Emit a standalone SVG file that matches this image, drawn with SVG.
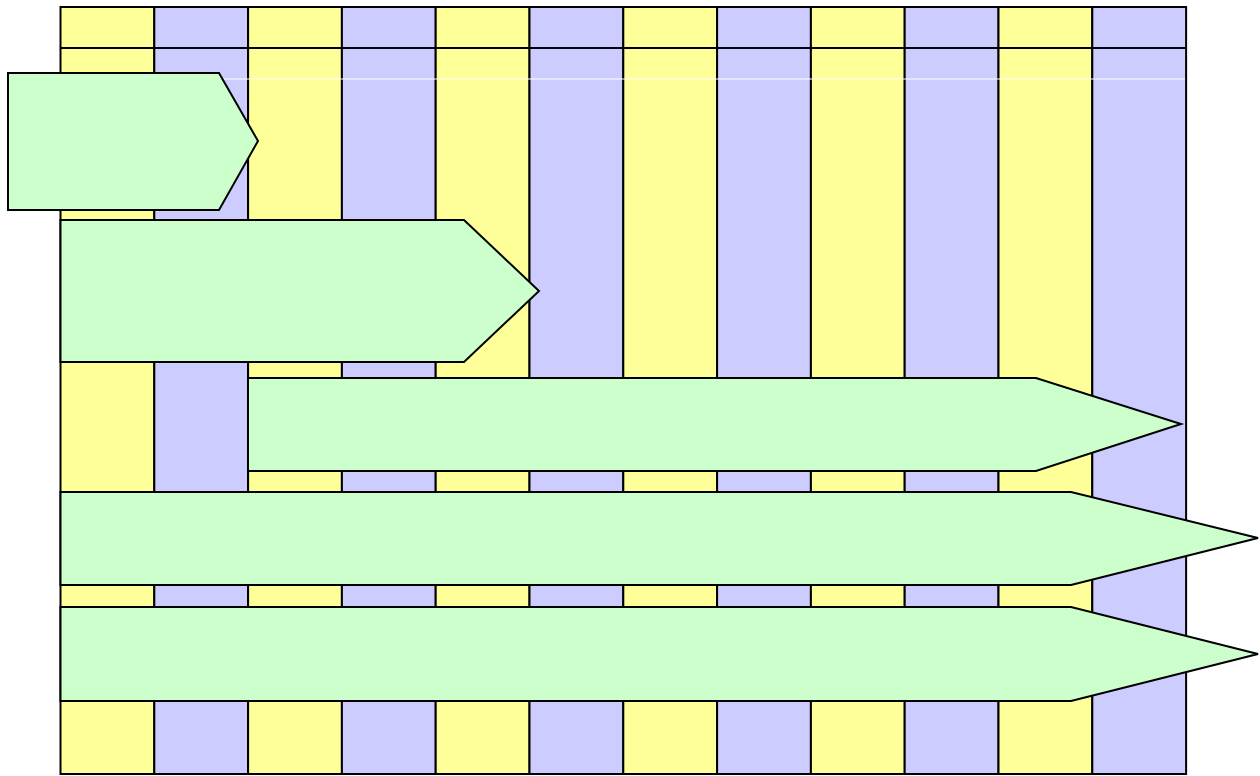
<svg xmlns="http://www.w3.org/2000/svg" width="1260" height="776" viewBox="0 0 1260 776">
<style>
.y{fill:#FFFF99;stroke:#000;stroke-width:2}
.b{fill:#CCCCFF;stroke:#000;stroke-width:2}
.bar{fill:#CCFFCC;stroke:#000;stroke-width:2;stroke-linejoin:miter}
.ln{stroke:#000;stroke-width:2}
</style>
<rect x="0" y="0" width="1260" height="776" fill="#fff"/>
<g id="grid">
<rect class="y" x="60.5" y="7" width="93.8" height="767"/>
<rect class="b" x="154.3" y="7" width="93.8" height="767"/>
<rect class="y" x="248.1" y="7" width="93.8" height="767"/>
<rect class="b" x="341.9" y="7" width="93.8" height="767"/>
<rect class="y" x="435.7" y="7" width="93.8" height="767"/>
<rect class="b" x="529.5" y="7" width="93.8" height="767"/>
<rect class="y" x="623.3" y="7" width="93.8" height="767"/>
<rect class="b" x="717.1" y="7" width="93.8" height="767"/>
<rect class="y" x="810.9" y="7" width="93.8" height="767"/>
<rect class="b" x="904.7" y="7" width="93.8" height="767"/>
<rect class="y" x="998.5" y="7" width="93.8" height="767"/>
<rect class="b" x="1092.3" y="7" width="93.8" height="767"/>
<line class="ln" x1="60.5" y1="48" x2="1186.1" y2="48"/>
<line x1="61" y1="79" x2="1185" y2="79" stroke="#fff" stroke-width="1"/>
</g>
<g id="bar1"><polygon class="bar" points="8,73 219,73 258,141 219,210 8,210"/></g>
<g id="bar2"><polygon class="bar" points="60.5,220 464,220 539,291 464,362 60.5,362"/></g>
<g id="bar3"><polygon class="bar" points="248,378 1036,378 1181,424 1036,471 248,471"/></g>
<g id="bar4"><polygon class="bar" points="60.5,492 1071,492 1258,538 1071,585 60.5,585"/></g>
<g id="bar5"><polygon class="bar" points="60.5,607 1071,607 1258,654 1071,701 60.5,701"/></g>
<g id="connectors"></g>
</svg>
